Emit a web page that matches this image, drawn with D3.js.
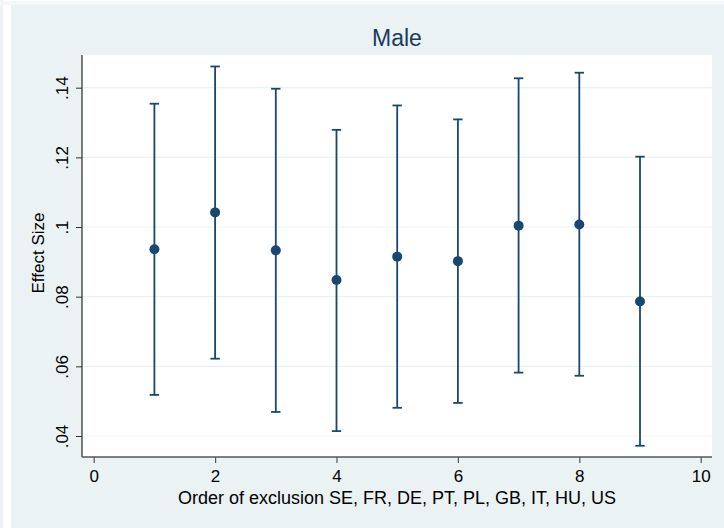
<!DOCTYPE html>
<html>
<head>
<meta charset="utf-8">
<script src="https://cdn.jsdelivr.net/npm/d3@7"></script>
<style>
  body { margin: 0; background: #fff; }
  svg { display: block; font-family: "Liberation Sans", Arial, sans-serif; }
</style>
</head>
<body>
<div class="chart"></div>
<script>
// Data: order of exclusion (x), effect size with CI
const order = [1, 2, 3, 4, 5, 6, 7, 8, 9];
const effect = [0.0936, 0.1042, 0.0933, 0.0848, 0.0915, 0.0902, 0.1004, 0.1007, 0.0786];
const upper = [0.1354, 0.1461, 0.1397, 0.1279, 0.1349, 0.1309, 0.1427, 0.1443, 0.1202];
const lower = [0.0518, 0.0622, 0.0469, 0.0414, 0.0481, 0.0495, 0.0582, 0.0573, 0.0372];
const xTicks = [0, 2, 4, 6, 8, 10];
const yTicks = [0.04, 0.06, 0.08, 0.10, 0.12, 0.14];

const width = 724, height = 528;
const plot = {left: 82, right: 712, top: 55, bottom: 457};
const navy = "#1a476f";
const fs = 17;

const svg = d3.select(".chart").append("svg")
  .attr("width", width)
  .attr("height", height);

// background frame
svg.append("rect").attr("x", 0).attr("y", 0).attr("width", 3).attr("height", height).attr("fill", "#eef3f4");
svg.append("rect").attr("x", 0).attr("y", 1).attr("width", width).attr("height", 4).attr("fill", "#f3f7f8");
svg.append("rect").attr("x", 11).attr("y", 5).attr("width", width - 11).attr("height", height - 5).attr("fill", "#eaf2f3");
svg.append("rect")
  .attr("x", plot.left).attr("y", plot.top)
  .attr("width", plot.right - plot.left).attr("height", plot.bottom - plot.top)
  .attr("fill", "#fff");

const x = d3.scaleLinear().domain([0, 10]).range([93.7, 700.7]);
const y = d3.scaleLinear().domain([0.04, 0.14]).range([436, 87.7]);

// gridlines
svg.append("g").selectAll("line").data(yTicks).join("line")
  .attr("x1", plot.left).attr("x2", plot.right)
  .attr("y1", d => y(d)).attr("y2", d => y(d))
  .attr("stroke", "#eaf2f3").attr("stroke-width", 1.2);

// y axis
const yAxis = d3.axisLeft(y).tickValues(yTicks).tickSize(6).tickSizeOuter(0)
  .tickFormat(d => d3.format(".2f")(d).replace(/^0/, "").replace(/0$/, ""));
const gy = svg.append("g").attr("transform", `translate(${plot.left},0)`).call(yAxis);
gy.select(".domain").attr("d", `M0,${plot.top}V${plot.bottom}`).attr("stroke", "#000");
gy.selectAll(".tick line").attr("stroke", "#333");
gy.selectAll(".tick text")
  .attr("font-size", fs).attr("fill", "#000")
  .attr("text-anchor", "middle")
  .attr("transform", "rotate(-90)")
  .attr("x", 0).attr("y", -14)
  .attr("dy", "0");

// x axis
const xAxis = d3.axisBottom(x).tickValues(xTicks).tickSize(6).tickSizeOuter(0);
const gx = svg.append("g").attr("transform", `translate(0,${plot.bottom})`).call(xAxis);
gx.select(".domain").attr("d", `M${plot.left},0H${plot.right}`).attr("stroke", "#555").attr("stroke-width", 1.5);
gx.selectAll(".tick line").attr("stroke", "#555").attr("stroke-width", 1.2);
gx.selectAll(".tick text").attr("font-size", fs).attr("fill", "#000").attr("y", 25).attr("dy", "0");

// labels
svg.append("text")
  .attr("x", (plot.left + plot.right) / 2).attr("y", 46)
  .attr("text-anchor", "middle").attr("font-size", 23).attr("fill", "#1c3a5e")
  .text("Male");
svg.append("text")
  .attr("transform", `translate(44,${(plot.top + plot.bottom) / 2 - 3}) rotate(-90)`)
  .attr("text-anchor", "middle").attr("font-size", fs).attr("fill", "#000")
  .text("Effect Size");
svg.append("text")
  .attr("x", (plot.left + plot.right) / 2).attr("y", 504)
  .attr("text-anchor", "middle").attr("font-size", 18).attr("fill", "#000")
  .text("Order of exclusion SE, FR, DE, PT, PL, GB, IT, HU, US");

// error bars
const data = order.map((o, i) => ({o, e: effect[i], hi: upper[i], lo: lower[i]}));
const bars = svg.append("g").attr("stroke", navy).attr("stroke-width", 1.8);
bars.selectAll(".ci").data(data).join("line")
  .attr("x1", d => x(d.o)).attr("x2", d => x(d.o))
  .attr("y1", d => y(d.hi)).attr("y2", d => y(d.lo));
bars.selectAll(".capHi").data(data).join("line")
  .attr("x1", d => x(d.o) - 4.7).attr("x2", d => x(d.o) + 4.7)
  .attr("y1", d => y(d.hi)).attr("y2", d => y(d.hi));
bars.selectAll(".capLo").data(data).join("line")
  .attr("x1", d => x(d.o) - 4.7).attr("x2", d => x(d.o) + 4.7)
  .attr("y1", d => y(d.lo)).attr("y2", d => y(d.lo));

svg.append("g").selectAll("circle").data(data).join("circle")
  .attr("cx", d => x(d.o)).attr("cy", d => y(d.e))
  .attr("r", 5).attr("fill", navy);
</script>
</body>
</html>
